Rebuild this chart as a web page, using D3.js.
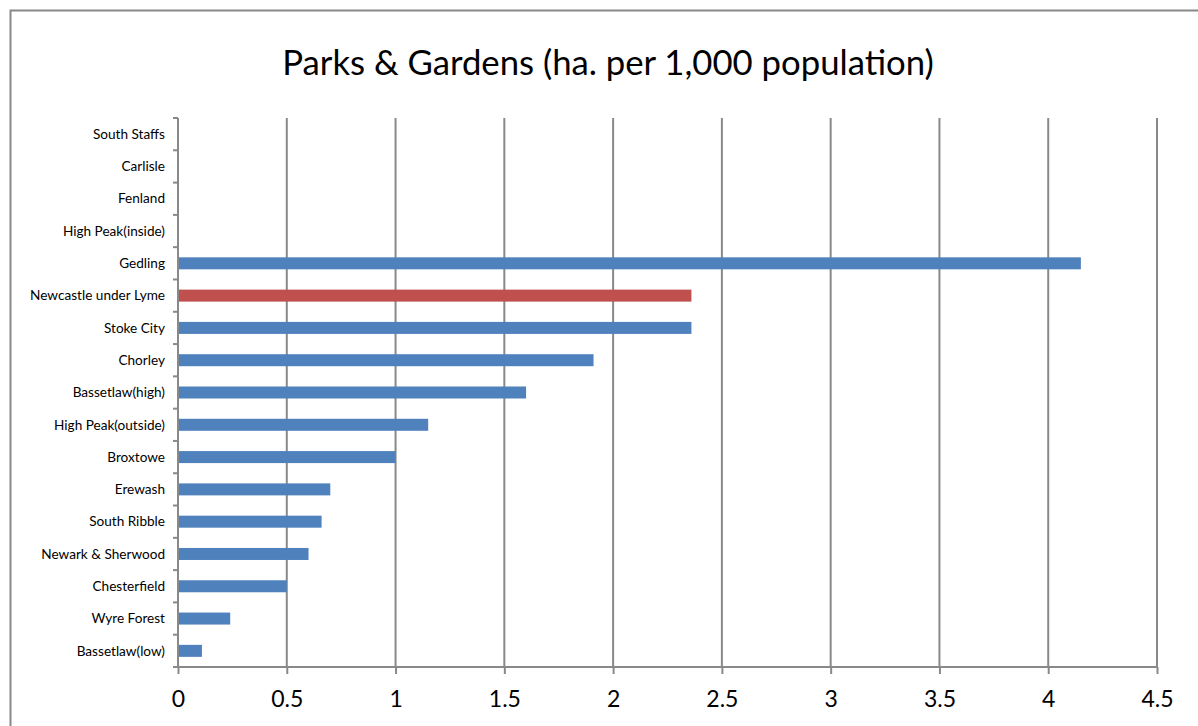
<!DOCTYPE html>
<html>
<head>
<meta charset="utf-8">
<script src="https://cdn.jsdelivr.net/npm/d3@7"></script>
<style>
  html, body { margin: 0; padding: 0; background: #fff; }
  svg { display: block; }
</style>
</head>
<body>
<svg id="chart" width="1198" height="726"></svg>
<script>
const categories = [
  "South Staffs", "Carlisle", "Fenland", "High Peak(inside)", "Gedling",
  "Newcastle under Lyme", "Stoke City", "Chorley", "Bassetlaw(high)",
  "High Peak(outside)", "Broxtowe", "Erewash", "South Ribble",
  "Newark & Sherwood", "Chesterfield", "Wyre Forest", "Bassetlaw(low)"
];
const values = [0, 0, 0, 0, 4.15, 2.36, 2.36, 1.91, 1.6, 1.15, 1.0, 0.70, 0.66, 0.60, 0.50, 0.24, 0.11];
const highlighted = ["Newcastle under Lyme"];
const xTicks = [0, 0.5, 1, 1.5, 2, 2.5, 3, 3.5, 4, 4.5];
const xTickLabels = ["0", "0.5", "1", "1.5", "2", "2.5", "3", "3.5", "4", "4.5"];
const title = "Parks & Gardens (ha. per 1,000 population)";

const font = "Lato, 'Open Sans', sans-serif";
const svg = d3.select("#chart");

// outer border (only left/top visible)
svg.append("rect")
  .attr("x", 10.5).attr("y", 10.5)
  .attr("width", 1300).attr("height", 900)
  .attr("fill", "none").attr("stroke", "#888").attr("stroke-width", 2);

const mLeft = 178, mRight = 1157, mTop = 118, mBottom = 667;

const x = d3.scaleLinear().domain([0, 4.5]).range([mLeft, mRight]);
const y = d3.scaleBand().domain(categories).range([mTop, mBottom]).paddingInner(0).paddingOuter(0);

// gridlines
svg.append("g").selectAll("line")
  .data(xTicks.slice(1))
  .join("line")
  .attr("x1", d => x(d)).attr("x2", d => x(d))
  .attr("y1", mTop).attr("y2", mBottom)
  .attr("stroke", "#898989").attr("stroke-width", 2);

// bars
const barH = 12;
svg.append("g").selectAll("rect")
  .data(categories.map((c, i) => ({c, v: values[i]})).filter(d => d.v > 0))
  .join("rect")
  .attr("x", x(0))
  .attr("y", d => y(d.c) + y.bandwidth() / 2 - barH / 2)
  .attr("width", d => x(d.v) - x(0))
  .attr("height", barH)
  .attr("fill", d => highlighted.includes(d.c) ? "#C0504D" : "#4F81BD");

// x axis
const xAxis = d3.axisBottom(x).tickValues(xTicks)
  .tickFormat((d, i) => xTickLabels[i]).tickSize(7).tickPadding(17);
const gx = svg.append("g").attr("transform", `translate(0,${mBottom})`).call(xAxis);
gx.select(".domain").attr("stroke", "#898989").attr("stroke-width", 2).attr("d", `M${mLeft},0H${mRight}`);
gx.selectAll(".tick line").attr("stroke", "#898989").attr("stroke-width", 2);
gx.selectAll(".tick text").attr("font-family", font).attr("font-size", 23).attr("fill", "#000");

// y axis: line with ticks at band boundaries
const gy = svg.append("g");
gy.append("line").attr("x1", mLeft).attr("x2", mLeft).attr("y1", mTop).attr("y2", mBottom)
  .attr("stroke", "#898989").attr("stroke-width", 2);
const bounds = categories.map(c => y(c)).concat([mBottom]);
gy.selectAll("line.tk").data(bounds).join("line").attr("class", "tk")
  .attr("x1", mLeft - 5).attr("x2", mLeft).attr("y1", d => d).attr("y2", d => d)
  .attr("stroke", "#898989").attr("stroke-width", 2);
gy.selectAll("text").data(categories).join("text")
  .attr("x", 165).attr("y", d => y(d) + y.bandwidth() / 2)
  .attr("dy", "0.35em").attr("text-anchor", "end")
  .attr("font-family", font).attr("font-size", 13.6).attr("fill", "#000")
  .text(d => d);

// title
svg.append("text").attr("x", 608).attr("y", 75).attr("text-anchor", "middle")
  .attr("font-family", font).attr("font-size", 34.7).attr("fill", "#000")
  .text(title);
</script>
</body>
</html>
